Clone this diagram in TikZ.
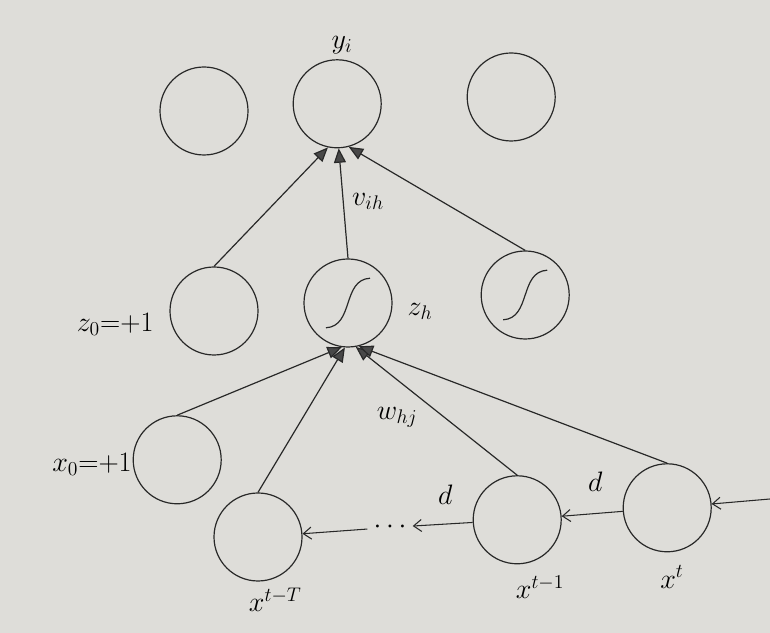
\documentclass[tikz,border=0pt]{standalone}
\usepackage{fix-cm}
\usepackage{tikz}
\usetikzlibrary{arrows.meta}
\definecolor{paper}{RGB}{222, 221, 217}
\definecolor{ink}{RGB}{40, 40, 40}

\begin{document}
\begin{tikzpicture}[
    font=\fontsize{20}{24}\selectfont,
    unit/.style={draw=ink, line width=0.85pt, circle, minimum size=2.2cm, inner sep=0pt},
    sigunit/.style={unit, path picture={\draw[ink, line width=0.85pt, shift={(path picture bounding box.center)}] (-0.55,-0.62) .. controls (0.15,-0.58) and (-0.15,0.58) .. (0.55,0.62);}},
    lbl/.style={inner sep=1pt, text=black},
    wgt/.style={draw=ink, line width=0.85pt, -{Triangle[length=3.6mm, width=3mm, fill=ink!85]}},
    dly/.style={draw=ink, line width=0.75pt, -{Straight Barb[length=2mm, width=3mm]}}
]
    \fill [paper] (0,0) rectangle (19.25,15.825);
    \useasboundingbox (0,0) rectangle (19.25,15.825);

    % output layer
    \node [unit] (out_a) at (5.10, 13.05) {};
    \node [unit] (yi) at (8.43, 13.23) {};
    \node [unit] (out_c) at (12.78, 13.40) {};

    % hidden layer
    \node [unit] (z0) at (5.35, 8.05) {};
    \node [sigunit] (zh) at (8.70, 8.25) {};
    \node [sigunit] (hid_c) at (13.13, 8.45) {};

    % input layer, tapped delay line
    \node [unit] (x0) at (4.43, 4.33) {};
    \node [unit] (xtT) at (6.45, 2.40) {};
    \node [unit] (xt1) at (12.93, 2.83) {};
    \node [unit] (xt) at (16.68, 3.13) {};
    \node [lbl, inner xsep=0.15cm] (dots) at (9.75, 2.64) {$\cdots$};
    \coordinate (feed) at (19.25, 3.35);

    \node [lbl] (yi_lbl) at (8.55, 14.70) {$y_i$};
    \node [lbl] (vih_lbl) at (9.20, 10.78) {$v_{ih}$};
    \node [lbl] (zh_lbl) at (10.50, 8.03) {$z_h$};
    \node [lbl] (z0_lbl) at (2.88, 7.72) {$z_0{=}{+}1$};
    \node [lbl] (x0_lbl) at (2.30, 4.22) {$x_0{=}{+}1$};
    \node [lbl] (whj_lbl) at (9.93, 5.40) {$w_{hj}$};
    \node [lbl] (d_a) at (11.13, 3.45) {$d$};
    \node [lbl] (d_b) at (14.88, 3.78) {$d$};
    \node [lbl] (xtT_lbl) at (6.88, 0.83) {$x^{t-T}$};
    \node [lbl] (xt1_lbl) at (13.50, 1.15) {$x^{t-1}$};
    \node [lbl] (xt_lbl) at (16.80, 1.40) {$x^{t}$};

    \draw [wgt] (z0.north) -- (yi.258);
    \draw [wgt] (zh.north) -- (yi.272);
    \draw [wgt] (hid_c.north) -- (yi.285);

    \draw [wgt] (x0.north) -- (zh.262);
    \draw [wgt] (xtT.north) -- (zh.266);
    \draw [wgt] (xt1.north) -- (zh.280);
    \draw [wgt] (xt.north) -- (zh.284);

    \draw [dly] (feed) -- (xt);
    \draw [dly] (xt) -- (xt1);
    \draw [dly] (xt1) -- (dots);
    \draw [dly] (dots) -- (xtT);

\end{tikzpicture}
\end{document}
